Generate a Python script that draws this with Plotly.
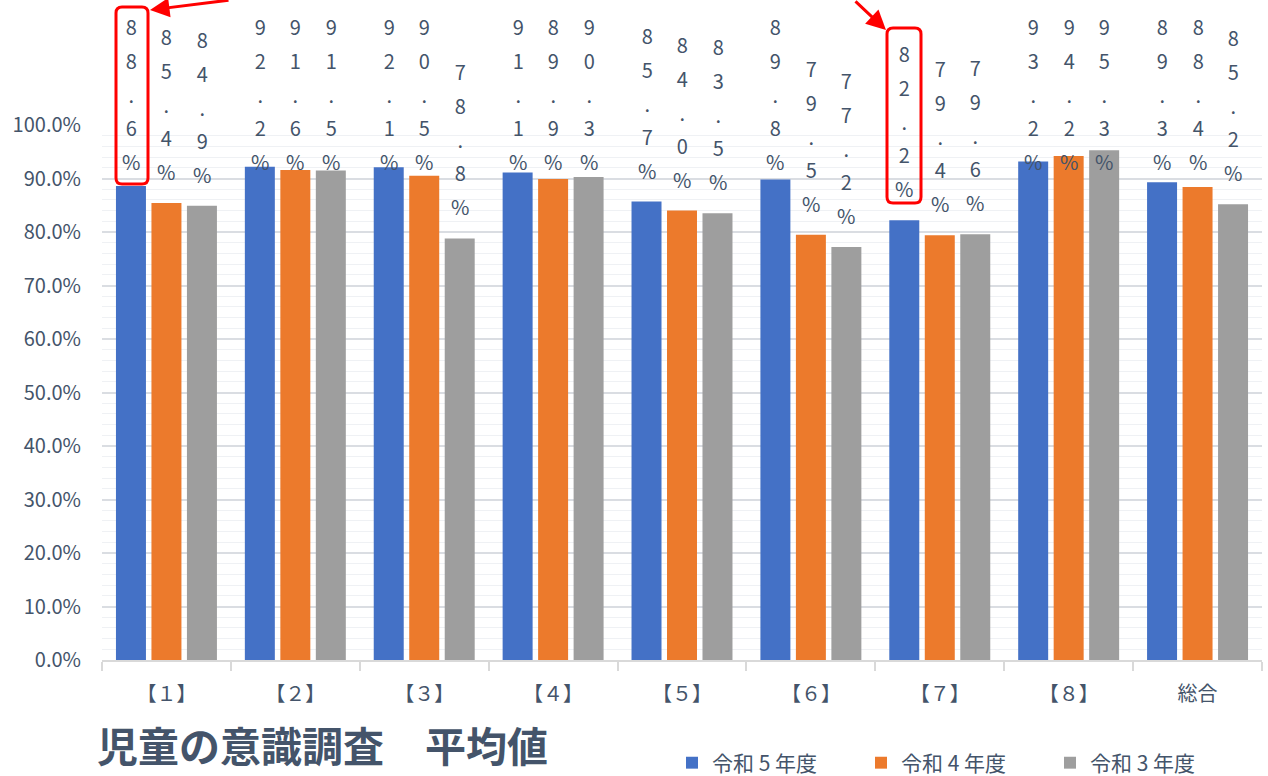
import plotly.graph_objects as go

categories = ["【１】", "【２】", "【３】", "【４】", "【５】", "【６】", "【７】", "【８】", "総合"]
series_names = ["令和 5 年度", "令和 4 年度", "令和 3 年度"]
r5 = [88.6, 92.2, 92.1, 91.1, 85.7, 89.8, 82.2, 93.2, 89.3]
r4 = [85.4, 91.6, 90.5, 89.9, 84.0, 79.5, 79.4, 94.2, 88.4]
r3 = [84.9, 91.5, 78.8, 90.3, 83.5, 77.2, 79.6, 95.3, 85.2]
colors = ["#4471C6", "#EC7A2C", "#9E9E9E"]
title_text = "児童の意識調査　平均値"

FONT = "Noto Sans CJK JP"
SLATE = "#44546A"

# plot area geometry (px)
L, R, T, B = 102, 6, 125, 116
W, H = 1268, 776
PW, PH = W - L - R, H - T - B
BAR_STEP = 35.5      # px between bar centres in a group
LABEL_CAP = 0.873    # labels cannot rise above the chart area (as in Excel)


def vlabel(v):
    s = f"{v:.1f}%"
    return "<br>".join(f"<span style='font-size:20px'>{c}</span>" for c in s)


fig = go.Figure()
annotations = []
for i, (name, vals, col) in enumerate(zip(series_names, [r5, r4, r3], colors)):
    fig.add_trace(go.Bar(
        x=categories,
        y=[v / 100 for v in vals],
        name=name,
        marker=dict(color=col, line=dict(width=0)),
        hoverinfo="skip",
    ))
    for cat, v in zip(categories, vals):
        annotations.append(dict(
            xref="x", yref="y", x=cat, y=min(v / 100, LABEL_CAP),
            xanchor="center", yanchor="bottom", yshift=16,
            xshift=(i - 1) * BAR_STEP,
            text=vlabel(v), showarrow=False, borderpad=0,
            font=dict(family=FONT, size=26, color=SLATE),
        ))


def px2paper(x, y):
    return (x - L) / PW, (H - B - y) / PH


def rounded_box(x0, y0, x1, y1, r=6):
    rx, ry = r / PW, r / PH
    a0, b1 = px2paper(x0, y0)
    a1, b0 = px2paper(x1, y1)
    return (f"M{a0+rx},{b1} L{a1-rx},{b1} Q{a1},{b1} {a1},{b1-ry} "
            f"L{a1},{b0+ry} Q{a1},{b0} {a1-rx},{b0} L{a0+rx},{b0} "
            f"Q{a0},{b0} {a0},{b0+ry} L{a0},{b1-ry} Q{a0},{b1} {a0+rx},{b1} Z")


shapes = [
    dict(type="path", xref="paper", yref="paper", path=rounded_box(116, 7, 148, 184),
         line=dict(color="#FF0000", width=3)),
    dict(type="path", xref="paper", yref="paper", path=rounded_box(887, 28, 921, 203),
         line=dict(color="#FF0000", width=3)),
]

for hx, hy, ax, ay in [(150, 10, 80, -14), (886, 30, -32, -42)]:
    px_, py_ = px2paper(hx, hy)
    annotations.append(dict(
        xref="paper", yref="paper", x=px_, y=py_, ax=ax, ay=ay,
        showarrow=True, arrowhead=2, arrowsize=1.3, arrowwidth=3,
        arrowcolor="#FF0000", text="",
    ))

tx, ty = px2paper(96, 775)
annotations.append(dict(
    xref="paper", yref="paper", x=tx, y=ty, xanchor="left", yanchor="bottom",
    text=f"<b>{title_text}</b>", showarrow=False, borderpad=0,
    font=dict(family=FONT, size=41, color=SLATE),
))

lx, ly = px2paper(672, 763)

fig.update_layout(
    width=W, height=H,
    margin=dict(l=L, r=R, t=T, b=B, autoexpand=False),
    paper_bgcolor="white", plot_bgcolor="white",
    barmode="group", bargap=0.174, bargroupgap=0.155,
    font=dict(family=FONT, color=SLATE),
    showlegend=True,
    legend=dict(orientation="h", x=lx, y=ly, xanchor="left", yanchor="middle",
                font=dict(family=FONT, size=21, color=SLATE),
                entrywidth=144, itemwidth=30, bgcolor="rgba(0,0,0,0)"),
    shapes=shapes,
    annotations=annotations,
    xaxis=dict(
        type="category", showline=True, linecolor="#D9D9D9", linewidth=1.5,
        ticks="outside", tickson="boundaries", ticklen=9, tickcolor="#D9D9D9", tickwidth=1.5,
        tickfont=dict(family=FONT, size=20, color=SLATE), ticklabelstandoff=15,
        showgrid=False, automargin=False,
    ),
    yaxis=dict(
        range=[0, 1.0], dtick=0.1, tickformat=".1%",
        tickfont=dict(family=FONT, size=20, color=SLATE),
        showgrid=True, gridcolor="#DADDE2", gridwidth=1.5,
        minor=dict(dtick=0.02, showgrid=True, gridcolor="#EFF1F4", gridwidth=1),
        zeroline=False, showline=False, ticks="", ticklabelstandoff=20,
        automargin=False,
    ),
)

fig.write_html("out.html")
